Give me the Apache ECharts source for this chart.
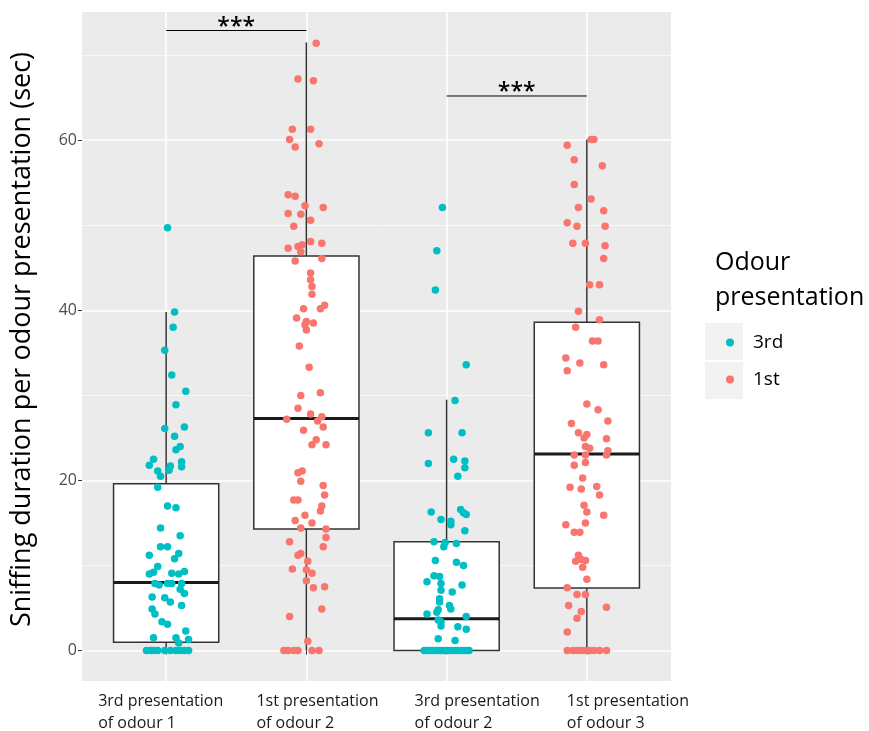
<!DOCTYPE html>
<html><head><meta charset="utf-8">
<script src="https://cdn.jsdelivr.net/npm/echarts@6/dist/echarts.min.js"></script>
<style>html,body{margin:0;padding:0;background:#fff}#c{width:869px;height:731px}</style>
</head><body><div id="c"></div>
<script>
// ---------- data ----------
const catLine1 = ['3rd presentation', '1st presentation', '3rd presentation', '1st presentation'];
const catLine2 = ['of odour 1', 'of odour 2', 'of odour 2', 'of odour 3'];
const catGroup = ['3rd', '1st', '3rd', '1st'];
const xTicks = [1, 2, 3, 4];
const yTicks = [0, 20, 40, 60];
const yMinorTicks = [10, 30, 50, 70];
const yTitle = 'Sniffing duration per odour presentation (sec)';
const legendTitle = ['Odour', 'presentation'];
const legendNames = ['3rd', '1st'];

// box statistics: min, q1, median, q3, max (whisker ends)
const boxMin = [0, 0, 0, 0];
const boxQ1 = [0.97, 14.3, 0, 7.35];
const boxMedian = [8.0, 27.3, 3.75, 23.1];
const boxQ3 = [19.6, 46.4, 12.8, 38.6];
const boxMax = [39.8, 71.5, 29.5, 60.1];

// significance brackets: [from category, to category, height]
const sigFrom = [1, 3];
const sigTo = [2, 4];
const sigHeight = [72.9, 65.2];
const sigText = ['***', '***'];

// jittered points: [horizontal jitter (category units), value]
const points1 = [
[0.01,49.7],[0.06,39.8],[0.05,38.0],[-0.01,35.3],[0.04,32.4],[0.14,30.5],[0.07,28.9],[-0.01,26.1],[0.13,26.3],[0.06,25.2],
[0.10,24.0],[0.07,23.6],[-0.09,22.5],[-0.12,21.8],[0.11,22.2],[0.11,21.6],[-0.06,21.1],[-0.04,20.5],[0.03,21.7],[0.02,21.2],
[-0.06,19.2],[0.01,17.0],[0.07,16.8],[-0.04,14.4],[0.10,13.5],[-0.04,12.2],[0.01,12.2],[0.06,10.8],[0.09,11.4],[-0.12,11.2],
[-0.06,9.9],[-0.12,9.0],[-0.09,9.2],[0.04,9.1],[0.09,9.0],[0.13,9.3],[-0.08,7.9],[-0.05,7.7],[0.01,7.9],[0.04,7.9],
[0.11,7.9],[0.10,7.2],[0.13,6.7],[-0.10,6.3],[-0.01,6.2],[0.03,5.7],[0.11,5.3],[-0.10,4.9],[-0.08,4.3],[-0.03,3.4],
[0.01,3.1],[0.14,2.3],[-0.09,1.5],[0.07,1.5],[0.16,1.3],[0.09,0.9],
[-0.14,0],[-0.11,0],[-0.09,0],[-0.06,0],[-0.01,0],[0.03,0],[0.07,0],[0.10,0],[0.13,0],[0.16,0]
];
const points2 = [
[0.07,71.4],[-0.06,67.2],[0.05,67.0],[-0.10,61.3],[0.03,61.3],[-0.12,60.1],[0.09,59.6],[-0.08,59.2],[-0.13,53.6],[-0.08,53.4],
[-0.01,52.3],[0.12,52.1],[-0.13,51.4],[-0.04,51.3],[0.03,50.6],[-0.09,49.9],[-0.13,47.3],[-0.06,47.5],[-0.03,47.7],[0.03,48.1],
[0.11,47.9],[-0.04,46.9],[-0.08,45.8],[0.11,46.1],[0.03,44.4],[0.03,43.6],[0.04,42.8],[0.04,41.9],[-0.02,40.2],[0.13,40.6],
[0.10,40.2],[-0.07,39.1],[0.00,38.7],[0.05,38.5],[-0.01,38.3],[0.00,37.7],[-0.05,35.8],[0.02,33.3],[-0.04,30.0],[0.10,30.3],
[-0.06,28.5],[0.03,27.8],[-0.14,27.2],[0.11,27.5],[0.08,27.0],[0.12,26.3],[-0.02,25.9],[0.07,24.8],[0.04,24.2],[0.14,24.2],
[-0.06,20.9],[-0.03,21.1],[-0.04,19.9],[0.12,19.4],[0.13,18.3],[-0.09,17.7],[-0.06,17.7],[0.11,17.0],[0.10,16.4],[-0.01,15.9],
[-0.08,15.3],[0.04,15.0],[-0.04,14.4],[0.14,14.3],[0.14,13.3],[-0.12,12.8],[0.12,12.2],[-0.06,11.2],[-0.04,11.4],[0.01,10.5],
[-0.10,9.6],[0.00,9.5],[0.04,9.1],[0.00,8.2],[0.05,7.4],[0.13,7.5],[0.11,4.9],[-0.12,4.0],[0.01,1.1],
[-0.16,0],[-0.13,0],[-0.09,0],[-0.06,0],[0.04,0],[0.09,0]
];
const points3 = [
[-0.03,52.1],[-0.07,47.0],[-0.08,42.4],[0.14,33.6],[0.06,29.4],[-0.13,25.6],[0.11,25.6],[-0.13,22.0],[0.05,22.5],[0.13,22.3],
[0.13,21.5],[0.08,20.5],[-0.11,16.3],[0.10,16.6],[0.12,16.2],[0.14,16.0],[-0.04,15.4],[0.03,15.2],[0.03,14.8],[0.13,14.1],
[-0.09,12.8],[-0.01,12.7],[0.07,12.6],[-0.02,12.2],[-0.08,10.6],[0.07,10.4],[0.12,10.0],[-0.09,8.8],[-0.05,8.7],[-0.14,8.1],
[-0.04,7.9],[0.11,7.7],[-0.04,7.1],[0.04,6.9],[-0.05,6.1],[-0.05,5.7],[0.02,5.3],[0.03,4.9],[-0.06,4.8],[-0.07,4.5],
[-0.14,4.3],[0.14,4.0],[-0.06,3.6],[-0.04,3.4],[-0.04,2.9],[0.08,2.8],[0.14,2.5],[-0.06,1.4],[0.06,1.2],
[-0.16,0],[-0.14,0],[-0.12,0],[-0.10,0],[-0.08,0],[-0.06,0],[-0.04,0],[-0.02,0],[0,0],[0.02,0],
[0.04,0],[0.06,0],[0.08,0],[0.10,0],[0.12,0],[0.14,0],[0.16,0]
];
const points4 = [
[0.03,60.1],[0.05,60.1],[-0.14,59.4],[-0.09,57.7],[0.11,57.0],[-0.09,54.8],[0.03,53.1],[-0.06,52.1],[0.12,51.7],[-0.14,50.3],
[-0.07,49.9],[0.13,49.9],[-0.10,47.9],[-0.01,47.9],[0.13,47.6],[0.12,46.1],[0.02,43.0],[0.09,43.0],[-0.06,39.9],[0.09,38.9],
[-0.08,38.0],[0.04,36.4],[0.08,36.4],[-0.15,34.4],[-0.05,33.8],[-0.14,32.9],[0.12,33.6],[0.00,29.0],[0.08,28.3],[0.15,27.0],
[-0.11,26.7],[-0.06,25.6],[0.00,25.4],[-0.02,25.0],[0.14,24.9],[-0.01,24.0],[0.02,23.8],[0.15,23.5],[0.14,23.0],[-0.09,23.0],
[-0.01,23.0],[-0.09,21.8],[-0.01,22.1],[-0.03,20.3],[-0.12,19.2],[-0.04,19.0],[0.07,19.3],[0.09,18.3],[-0.02,17.1],[0.00,16.3],
[0.12,15.9],[-0.15,14.8],[-0.01,15.0],[-0.09,13.9],[-0.05,13.9],[-0.06,11.2],[-0.08,10.5],[-0.04,10.7],[-0.01,10.6],[-0.03,9.8],
[0.00,8.4],[-0.14,7.4],[-0.07,6.6],[-0.01,6.6],[-0.13,5.3],[0.14,5.1],[-0.04,4.6],[-0.07,3.8],[-0.14,2.2],
[-0.14,0],[-0.10,0],[-0.07,0],[-0.04,0],[-0.01,0],[0.02,0],[0.05,0],[0.09,0],[0.14,0]
];

// ---------- styling ----------
const FONT = '"Open Sans", Lato, sans-serif';
const COLORS = {'3rd': '#00BFC4', '1st': '#F8766D'};
const BOX_WIDTH = 0.75;
// labels are right-anchored at the tick; right padding sets how far left the text starts
const LABEL_RIGHT_PAD = [58, 40, 22, 10];

const allPoints = [points1, points2, points3, points4];
const dataMax = Math.max(...boxMax, ...allPoints.flat().map(p => p[1]));
const dataMin = 0;
const span = dataMax - dataMin;
const yMin = dataMin - 0.05 * span;
const yMax = dataMax + 0.05 * span;

const boxData = xTicks.map((c, i) => [c, boxMin[i], boxQ1[i], boxMedian[i], boxQ3[i], boxMax[i]]);
function seriesPoints(name) {
  const out = [];
  allPoints.forEach((arr, i) => {
    if (catGroup[i] !== name) return;
    arr.forEach(p => out.push([xTicks[i] + p[0], p[1]]));
  });
  return out;
}
const sigData = sigFrom.map((f, i) => [f, sigTo[i], sigHeight[i]]);

const labelRich = {};
LABEL_RIGHT_PAD.forEach((pr, i) => {
  labelRich['a' + i] = {width: 10, align: 'left', padding: [0, pr, 0, 0], fontSize: 16, lineHeight: 22, color: '#1A1A1A', fontFamily: FONT};
});

const chart = echarts.init(document.getElementById('c'), null, {renderer: 'canvas'});
const option = {
  backgroundColor: '#ffffff',
  animation: false,
  textStyle: {fontFamily: FONT},
  grid: {left: 82, right: 198, top: 12, bottom: 50, show: true, backgroundColor: '#EBEBEB', borderWidth: 0, containLabel: false},
  xAxis: {
    type: 'value', min: 0.4, max: 4.6,
    axisLine: {show: false},
    axisTick: {show: true, customValues: xTicks, length: 4, lineStyle: {color: '#333333', width: 1}},
    axisLabel: {
      customValues: xTicks, margin: 9, showMinLabel: true, showMaxLabel: true, hideOverlap: false,
      align: 'right',
      formatter: v => '{a' + (v - 1) + '|' + catLine1[v - 1] + '}\n{a' + (v - 1) + '|' + catLine2[v - 1] + '}',
      rich: labelRich
    },
    splitLine: {show: true, lineStyle: {color: '#ffffff', width: 1.6}}
  },
  yAxis: [{
    type: 'value', min: yMin, max: yMax,
    axisLine: {show: false},
    axisTick: {show: true, customValues: yTicks, length: 4, lineStyle: {color: '#333333', width: 1}},
    axisLabel: {customValues: yTicks, color: '#4D4D4D', fontSize: 16, margin: 5, fontFamily: FONT},
    splitLine: {show: true, lineStyle: {color: '#ffffff', width: 1.6}},
    name: yTitle, nameLocation: 'middle', nameGap: 46,
    nameTextStyle: {fontSize: 27, color: '#000000', fontFamily: FONT, padding: [0, 0, 0, 14]}
  }, {
    type: 'value', min: yMin, max: yMax,
    axisLine: {show: false},
    axisTick: {show: false, customValues: yMinorTicks},
    axisLabel: {show: false, customValues: yMinorTicks},
    splitLine: {show: true, lineStyle: {color: '#ffffff', width: 0.7}}
  }],
  legend: {
    data: legendNames, orient: 'vertical', left: 721, top: 328,
    itemWidth: 8, itemHeight: 8, itemGap: 18, icon: 'circle',
    textStyle: {fontSize: 19, color: '#000000', fontFamily: FONT, padding: [0, 0, 0, 14]}
  },
  graphic: [
    {type: 'text', left: 715, top: 250, style: {text: legendTitle[0], fontSize: 25, fill: '#000', fontFamily: FONT}},
    {type: 'text', left: 715, top: 285, style: {text: legendTitle[1], fontSize: 25, fill: '#000', fontFamily: FONT}},
    {type: 'rect', left: 705, top: 323, z: -1, shape: {width: 38, height: 37}, style: {fill: '#F2F2F2'}},
    {type: 'rect', left: 705, top: 362, z: -1, shape: {width: 38, height: 37}, style: {fill: '#F2F2F2'}}
  ],
  series: [
    {
      type: 'custom', name: 'boxes', z: 2, data: boxData, silent: true,
      encode: {x: 0, y: [1, 2, 3, 4, 5]},
      renderItem: function (params, api) {
        const c = api.value(0);
        const lo = api.value(1), q1 = api.value(2), md = api.value(3), q3 = api.value(4), hi = api.value(5);
        const tl = api.coord([c - BOX_WIDTH / 2, q3]);
        const br = api.coord([c + BOX_WIDTH / 2, q1]);
        const top = api.coord([c, hi]), bot = api.coord([c, lo]);
        const q3c = api.coord([c, q3]), q1c = api.coord([c, q1]);
        const mL = api.coord([c - BOX_WIDTH / 2, md]), mR = api.coord([c + BOX_WIDTH / 2, md]);
        const ls = {stroke: '#333333', lineWidth: 1.5};
        return {type: 'group', children: [
          {type: 'line', shape: {x1: top[0], y1: top[1], x2: q3c[0], y2: q3c[1]}, style: ls},
          {type: 'line', shape: {x1: bot[0], y1: bot[1], x2: q1c[0], y2: q1c[1]}, style: ls},
          {type: 'rect', shape: {x: tl[0], y: tl[1], width: br[0] - tl[0], height: br[1] - tl[1]}, style: {fill: '#ffffff', stroke: '#333333', lineWidth: 1.5}},
          {type: 'line', shape: {x1: mL[0], y1: mL[1], x2: mR[0], y2: mR[1]}, style: {stroke: '#1A1A1A', lineWidth: 3}}
        ]};
      }
    },
    {type: 'scatter', name: '3rd', z: 3, data: seriesPoints('3rd'), symbolSize: 7.5, itemStyle: {color: COLORS['3rd'], opacity: 1}},
    {type: 'scatter', name: '1st', z: 3, data: seriesPoints('1st'), symbolSize: 7.5, itemStyle: {color: COLORS['1st'], opacity: 1}},
    {
      type: 'custom', name: 'sig', z: 4, data: sigData, silent: true, clip: false,
      encode: {x: [0, 1], y: 2},
      renderItem: function (params, api) {
        const a = api.coord([api.value(0), api.value(2)]);
        const b = api.coord([api.value(1), api.value(2)]);
        return {type: 'group', children: [
          {type: 'line', shape: {x1: a[0], y1: a[1], x2: b[0], y2: b[1]}, style: {stroke: '#000', lineWidth: 1}},
          {type: 'text', style: {text: sigText[params.dataIndex], x: (a[0] + b[0]) / 2, y: a[1] + 8, align: 'center', verticalAlign: 'bottom', fontSize: 23, fontWeight: 600, fill: '#000', fontFamily: FONT}}
        ]};
      }
    }
  ]
};
chart.setOption(option);
</script>
</body></html>
